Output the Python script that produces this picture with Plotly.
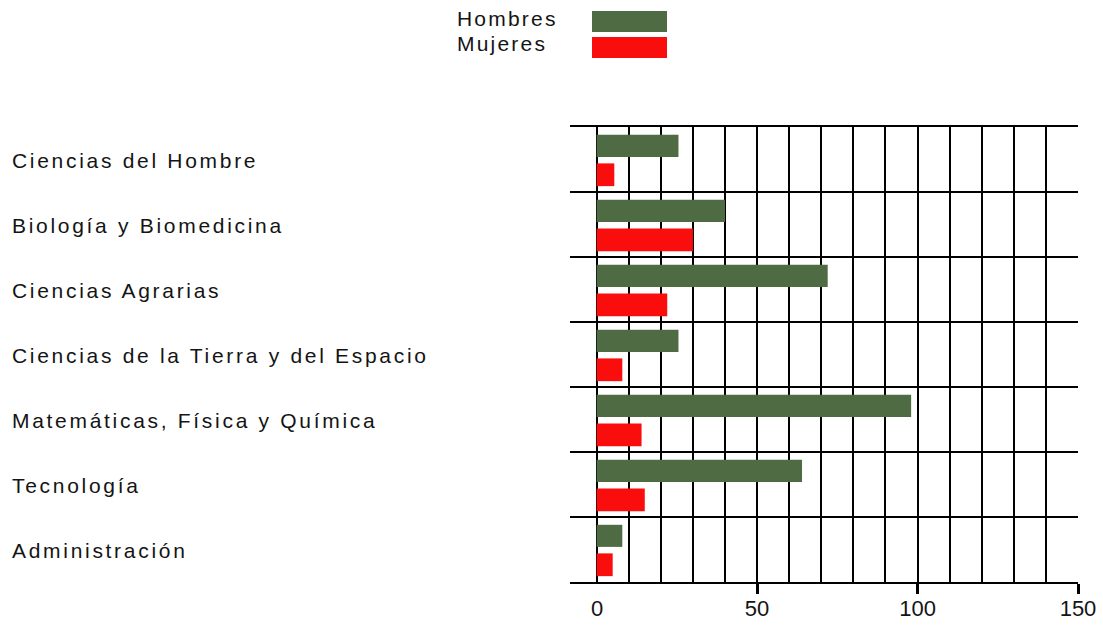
import plotly.graph_objects as go

categories = [
    "Ciencias del Hombre",
    "Biología y Biomedicina",
    "Ciencias Agrarias",
    "Ciencias de la Tierra y del Espacio",
    "Matemáticas, Física y Química",
    "Tecnología",
    "Administración",
]
hombres = [25.5, 40, 72, 25.5, 98, 64, 8]
mujeres = [5.5, 30, 22, 8, 14, 15, 5]
x_ticks = [50, 100, 150]   # labelled ticks with tick marks
x_origin = 0               # labelled, without a tick mark

GREEN = "#4f6b44"
RED = "#f90d0d"
FONT = "Liberation Sans, Arial, sans-serif"
TXT = "#141414"

n = len(categories)
ypos = [n - i - 0.5 for i in range(n)]

# pixel geometry of plot area
L, R, T, B = 570, 1078, 127, 582
W, H = 1103, 625
XR = [-8.3, 150]


def px_x(p):
    return (p - L) / (R - L)


def px_y(p):
    return (B - p) / (B - T)


fig = go.Figure()
fig.add_trace(go.Bar(
    y=ypos, x=hombres, orientation="h", name="Hombres",
    marker=dict(color=GREEN, line=dict(width=0)),
    width=0.34, offset=0.04, showlegend=False, hoverinfo="x+name",
))
fig.add_trace(go.Bar(
    y=ypos, x=mujeres, orientation="h", name="Mujeres",
    marker=dict(color=RED, line=dict(width=0)),
    width=0.35, offset=-0.41, showlegend=False, hoverinfo="x+name",
))

annotations = []
for cat, yv in zip(categories, ypos):
    annotations.append(dict(
        x=px_x(12), xref="paper", y=yv, yref="y",
        text=f'<span style="letter-spacing:2.7px">{cat}</span>',
        showarrow=False, xanchor="left", yanchor="middle", align="left",
        yshift=-1, borderpad=0, borderwidth=0,
        font=dict(family=FONT, size=21, color=TXT),
    ))

# origin label (the reference has no tick mark at 0)
annotations.append(dict(
    x=x_origin, xref="x", y=0, yref="paper", text=str(x_origin),
    showarrow=False, xanchor="center", yanchor="middle", yshift=-26,
    borderpad=0, borderwidth=0,
    font=dict(family=FONT, size=22, color=TXT),
))

# legend (custom)
for label, ytext in [("Hombres", 19), ("Mujeres", 43)]:
    annotations.append(dict(
        x=px_x(457), xref="paper", y=px_y(ytext), yref="paper",
        text=f'<span style="letter-spacing:2.2px">{label}</span>',
        showarrow=False, xanchor="left", yanchor="middle", align="left",
        borderpad=0, borderwidth=0,
        font=dict(family=FONT, size=21, color=TXT),
    ))

shapes = []
for color, y0, y1 in [(GREEN, 11, 32), (RED, 37, 58)]:
    shapes.append(dict(
        type="rect", xref="paper", yref="paper",
        x0=px_x(592), x1=px_x(667), y0=px_y(y1), y1=px_y(y0),
        fillcolor=color, line=dict(width=0),
    ))

fig.update_layout(
    width=W, height=H, autosize=False,
    margin=dict(l=L, r=W - R, t=T, b=H - B, pad=0, autoexpand=False),
    plot_bgcolor="white", paper_bgcolor="white",
    annotations=annotations, shapes=shapes,
    font=dict(family=FONT, size=20, color=TXT),
    xaxis=dict(
        range=XR, tickvals=x_ticks, ticktext=[str(v) for v in x_ticks],
        showgrid=True, gridcolor="black", gridwidth=2,
        minor=dict(dtick=10, tick0=0, showgrid=True, gridcolor="black", gridwidth=2),
        ticks="outside", ticklen=10, tickwidth=3, tickcolor="black",
        ticklabelstandoff=-4,
        showline=True, mirror=True, linecolor="black", linewidth=2,
        zeroline=False, fixedrange=True,
        tickfont=dict(family=FONT, size=22, color=TXT),
    ),
    yaxis=dict(
        range=[0, n], dtick=1, tick0=0, showticklabels=False,
        showgrid=True, gridcolor="black", gridwidth=2,
        zeroline=False, showline=False, ticks="", fixedrange=True,
    ),
)

fig.write_html(
    "out.html",
    config={"displayModeBar": False, "responsive": False},
    post_script="document.body.style.margin='0';document.body.style.overflow='hidden';",
)
